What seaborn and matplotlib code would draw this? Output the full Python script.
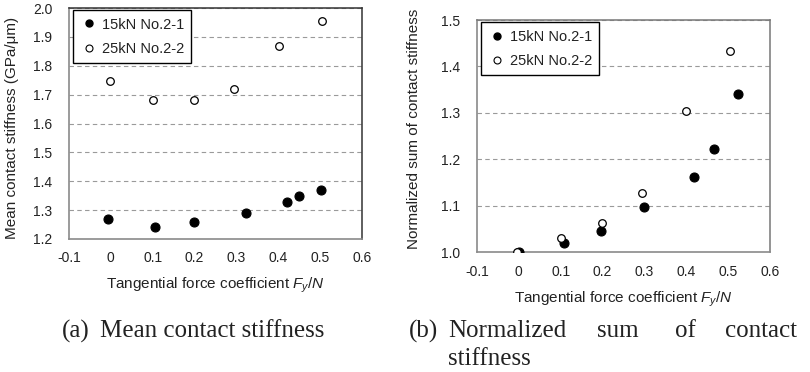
import numpy as np
import pandas as pd
import matplotlib
matplotlib.use("Agg")
import matplotlib.pyplot as plt
import seaborn as sns
from matplotlib.lines import Line2D

# ---- data ----
series_names = ["15kN No.2-1", "25kN No.2-2"]

a_x_15 = [-0.008, 0.106, 0.199, 0.324, 0.421, 0.450, 0.501]
a_y_15 = [1.270, 1.243, 1.259, 1.289, 1.329, 1.349, 1.370]
a_x_25 = [-0.002, 0.100, 0.199, 0.295, 0.401, 0.505]
a_y_25 = [1.747, 1.683, 1.681, 1.720, 1.867, 1.954]

b_x_15 = [0.000, 0.107, 0.197, 0.299, 0.419, 0.466, 0.523]
b_y_15 = [1.000, 1.019, 1.046, 1.096, 1.161, 1.223, 1.340]
b_x_25 = [-0.005, 0.100, 0.199, 0.295, 0.400, 0.505]
b_y_25 = [1.001, 1.030, 1.063, 1.128, 1.304, 1.434]

x_ticks = [-0.1, 0, 0.1, 0.2, 0.3, 0.4, 0.5, 0.6]
x_ticklabels = ["-0.1", "0", "0.1", "0.2", "0.3", "0.4", "0.5", "0.6"]
a_yticks = [1.2, 1.3, 1.4, 1.5, 1.6, 1.7, 1.8, 1.9, 2.0]
b_yticks = [1.0, 1.1, 1.2, 1.3, 1.4, 1.5]

x_label_text = r"Tangential force coefficient $F_y$/$N$"
a_ylabel = "Mean contact stiffness (GPa/\u03bcm)"
b_ylabel = "Normalized sum of contact stiffness"

sns.set_theme(style="white")
plt.rcParams["font.family"] = ["Liberation Sans", "DejaVu Sans"]
plt.rcParams["mathtext.fontset"] = "custom"
plt.rcParams["mathtext.it"] = "Liberation Sans:italic"
plt.rcParams["mathtext.rm"] = "Liberation Sans"

W, H = 810, 372
fig = plt.figure(figsize=(W / 100, H / 100), dpi=100)

def px_axes(x0, y0, x1, y1):
    return fig.add_axes([x0 / W, 1 - y1 / H, (x1 - x0) / W, (y1 - y0) / H])

ax1 = px_axes(69, 8, 362, 239)
ax2 = px_axes(477, 20, 770, 252)

def make_df(x15, y15, x25, y25):
    return pd.DataFrame({
        "x": list(x15) + list(x25),
        "y": list(y15) + list(y25),
        "series": [series_names[0]] * len(x15) + [series_names[1]] * len(x25),
    })

txt_color = "#222222"
grid_color = "#9a9a9a"

def style_axes(ax, df, yticks, ylabel, ylabel_xy, xlabel_y, edge_dark):
    d15 = df[df.series == series_names[0]]
    d25 = df[df.series == series_names[1]]
    sns.scatterplot(data=d15, x="x", y="y", ax=ax, color="black", edgecolor="black",
                    s=42, linewidth=0.8, zorder=3, legend=False)
    sns.scatterplot(data=d25, x="x", y="y", ax=ax, color="white", edgecolor="black",
                    s=30, linewidth=0.9, zorder=4, legend=False)
    ax.set_xlim(-0.1, 0.6)
    ax.set_ylim(yticks[0], yticks[-1])
    ax.set_xticks(x_ticks)
    ax.set_xticklabels(x_ticklabels)
    ax.set_yticks(yticks)
    ax.set_yticklabels([f"{v:.1f}" for v in yticks])
    for v in yticks[1:]:
        ax.axhline(v, color=grid_color, lw=0.8, ls=(0, (4, 3)), zorder=1)
    for s in ["left", "bottom"]:
        ax.spines[s].set_color("#8a8a8a")
        ax.spines[s].set_linewidth(1.2)
    for s in ["top", "right"]:
        ax.spines[s].set_color(edge_dark)
        ax.spines[s].set_linewidth(1.1)
    ax.tick_params(axis="both", which="major", direction="out", length=4, width=0.9,
                   color="#8a8a8a", labelsize=10, labelcolor=txt_color)
    ax.tick_params(axis="y", pad=8)
    ax.tick_params(axis="x", pad=5)
    ax.set_xlabel(x_label_text, fontsize=11, color=txt_color)
    ax.set_ylabel(ylabel, fontsize=11, color=txt_color)
    ax.yaxis.set_label_coords(*ylabel_xy)
    ax.xaxis.set_label_coords(0.5, xlabel_y)
    handles = [
        Line2D([], [], ls="none", marker="o", markersize=5, markerfacecolor="black",
               markeredgecolor="black"),
        Line2D([], [], ls="none", marker="o", markersize=5, markerfacecolor="white",
               markeredgecolor="black", markeredgewidth=0.8),
    ]
    leg = ax.legend(handles, series_names, loc="upper left", bbox_to_anchor=(0.012, 0.99),
                    frameon=True, fancybox=False, edgecolor="black", framealpha=1,
                    fontsize=10.5, handlelength=1.2, handletextpad=0.3,
                    labelspacing=0.72, borderpad=0.5, borderaxespad=0)
    leg.get_frame().set_linewidth(1.0)
    for t in leg.get_texts():
        t.set_color(txt_color)

df_a = make_df(a_x_15, a_y_15, a_x_25, a_y_25)
df_b = make_df(b_x_15, b_y_15, b_x_25, b_y_25)
style_axes(ax1, df_a, a_yticks, a_ylabel, (-0.171, 0.48), -0.16, "#333333")
style_axes(ax2, df_b, b_yticks, b_ylabel, (-0.191, 0.53), -0.164, "#777777")

# ---- captions ----
cap_kw = dict(family=["Liberation Serif", "DejaVu Serif"], fontsize=18, color="#222222",
              va="center", ha="left")

def ptext(x, y, s):
    fig.text(x / W, 1 - y / H, s, **cap_kw)

ptext(62, 331, "(a)")
ptext(100, 331, "Mean contact stiffness")
ptext(409, 331, "(b)")
ptext(448, 331, "Normalized")
ptext(597, 331, "sum")
ptext(675, 331, "of")
ptext(725, 331, "contact")
ptext(448, 359, "stiffness")

fig.savefig("out.png", dpi=100, facecolor="white")
